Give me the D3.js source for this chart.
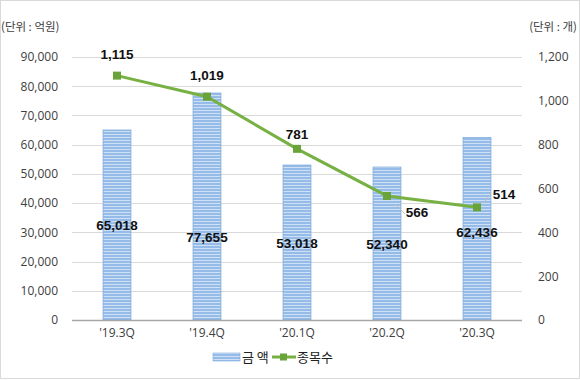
<!DOCTYPE html>
<html>
<head>
<meta charset="utf-8">
<script src="https://cdn.jsdelivr.net/npm/d3@7"></script>
<style>
  body { margin: 0; background: #fff; }
  svg { display: block; font-family: "Noto Sans CJK KR", "Noto Sans", sans-serif; }
</style>
</head>
<body>
<svg id="chart" width="580" height="380"></svg>
<script>
// data
const quarters = ["'19.3Q", "'19.4Q", "'20.1Q", "'20.2Q", "'20.3Q"];
const amounts = [65018, 77655, 53018, 52340, 62436];   // 금 액 (억원)
const counts = [1115, 1019, 781, 566, 514];            // 종목수 (개)
const leftTicks = [0, 10000, 20000, 30000, 40000, 50000, 60000, 70000, 80000, 90000];
const rightTicks = [0, 200, 400, 600, 800, 1000, 1200];

const svg = d3.select("#chart");
const W = 580, H = 380;
const margin = {top: 57, right: 58, bottom: 60, left: 72};

// outer frame
svg.append("rect")
    .attr("x", 0.5).attr("y", 0.5)
    .attr("width", W - 1).attr("height", H - 2)
    .attr("fill", "#fff").attr("stroke", "#d9d9d9");

// striped fill for bars
const defs = svg.append("defs");
const pat = defs.append("pattern")
    .attr("id", "stripes")
    .attr("patternUnits", "userSpaceOnUse")
    .attr("width", 8).attr("height", 3);
pat.append("rect").attr("width", 8).attr("height", 3).attr("fill", "#95bce8");
pat.append("rect").attr("y", 2).attr("width", 8).attr("height", 1).attr("fill", "#cfe0f5");

const x = d3.scaleBand()
    .domain(quarters)
    .range([margin.left, W - margin.right])
    .paddingInner(0.69)
    .paddingOuter(0.345);

const yL = d3.scaleLinear().domain([0, 90000]).range([H - margin.bottom, margin.top]);
const yR = d3.scaleLinear().domain([0, 1200]).range([H - margin.bottom, margin.top]);

// gridlines
svg.append("g")
    .selectAll("line")
    .data(leftTicks.slice(1))
    .join("line")
    .attr("x1", margin.left).attr("x2", W - margin.right)
    .attr("y1", d => Math.round(yL(d)) + 0.5).attr("y2", d => Math.round(yL(d)) + 0.5)
    .attr("stroke", "#d9d9d9");

// left axis
const axL = svg.append("g")
    .attr("transform", `translate(${margin.left},0)`)
    .call(d3.axisLeft(yL).tickValues(leftTicks).tickFormat(d3.format(",")).tickSize(0).tickPadding(14));
axL.select(".domain").remove();
axL.selectAll("text").attr("font-size", 12).attr("fill", "#404040")
    .attr("font-family", "'Open Sans', sans-serif");

// right axis
const axR = svg.append("g")
    .attr("transform", `translate(${W - margin.right},0)`)
    .call(d3.axisRight(yR).tickValues(rightTicks).tickFormat(d3.format(",")).tickSize(0).tickPadding(16));
axR.select(".domain").remove();
axR.selectAll("text").attr("font-size", 12).attr("fill", "#404040")
    .attr("font-family", "'Open Sans', sans-serif");

// bars
svg.append("g")
    .selectAll("rect")
    .data(amounts)
    .join("rect")
    .attr("x", (d, i) => x(quarters[i]))
    .attr("y", d => yL(d))
    .attr("width", x.bandwidth())
    .attr("height", d => yL(0) - yL(d))
    .attr("fill", "url(#stripes)")
    .attr("stroke", "#7eaadc")
    .attr("stroke-width", 0.8);

// x axis baseline
svg.append("line")
    .attr("x1", margin.left).attr("x2", W - margin.right)
    .attr("y1", yL(0) + 0.5).attr("y2", yL(0) + 0.5)
    .attr("stroke", "#a6a6a6").attr("stroke-width", 1.5);

// x labels
svg.append("g")
    .selectAll("text")
    .data(quarters)
    .join("text")
    .attr("x", d => x(d) + x.bandwidth() / 2)
    .attr("y", yL(0) + 17)
    .attr("text-anchor", "middle")
    .attr("font-size", 12)
    .attr("fill", "#404040")
    .attr("font-family", "'Open Sans', sans-serif")
    .text(d => d);

// bar value labels (centered in bar, second one nudged down as in the original)
const barLabelNudge = [0, 30, 0, 0, 3];
svg.append("g")
    .selectAll("text")
    .data(amounts)
    .join("text")
    .attr("x", (d, i) => x(quarters[i]) + x.bandwidth() / 2)
    .attr("y", (d, i) => (yL(d) + yL(0)) / 2 + 5 + barLabelNudge[i])
    .attr("text-anchor", "middle")
    .attr("font-size", 13.5)
    .attr("font-weight", "bold")
    .attr("fill", "#111")
    .attr("font-family", "'Liberation Sans', sans-serif")
    .text(d => d3.format(",")(d));

// line
const cx = (d, i) => x(quarters[i]) + x.bandwidth() / 2;
const line = d3.line()
    .x((d, i) => cx(d, i))
    .y(d => yR(d));

svg.append("path")
    .datum(counts)
    .attr("d", line)
    .attr("fill", "none")
    .attr("stroke", "#77b143")
    .attr("stroke-width", 3);

svg.append("g")
    .selectAll("rect")
    .data(counts)
    .join("rect")
    .attr("x", (d, i) => cx(d, i) - 4)
    .attr("y", d => yR(d) - 4)
    .attr("width", 8).attr("height", 8)
    .attr("fill", "#6aa33a");

// leader lines for the last two labels
const leaders = [[3, 8, 8, 18, 18], [4, 6, -4, 14, -14]];
svg.append("g")
    .selectAll("path")
    .data(leaders)
    .join("path")
    .attr("d", l => {
        const i = l[0];
        const px = cx(counts[i], i), py = yR(counts[i]);
        return `M${px + l[1]},${py + l[2]}L${px + l[3]},${py + l[4]}`;
    })
    .attr("stroke", "#bfbfbf")
    .attr("fill", "none");

// line value labels
const lineLabelDx = [0, 0, 0, 30, 27];
const lineLabelDy = [-17, -17, -10, 21, -8];
svg.append("g")
    .selectAll("text")
    .data(counts)
    .join("text")
    .attr("x", (d, i) => cx(d, i) + lineLabelDx[i])
    .attr("y", (d, i) => yR(d) + lineLabelDy[i])
    .attr("text-anchor", "middle")
    .attr("font-size", 13.5)
    .attr("font-weight", "bold")
    .attr("fill", "#111")
    .attr("font-family", "'Liberation Sans', sans-serif")
    .text(d => d3.format(",")(d));

// unit labels
svg.append("text")
    .attr("x", 1).attr("y", 31)
    .attr("font-size", 11.5).attr("fill", "#404040")
    .text("(단위 : 억원)");
svg.append("text")
    .attr("x", 577).attr("y", 31)
    .attr("text-anchor", "end")
    .attr("font-size", 11.5).attr("fill", "#404040")
    .text("(단위 : 개)");

// legend
const lg = svg.append("g").attr("transform", "translate(213,357)");
lg.append("rect")
    .attr("x", 0).attr("y", -4).attr("width", 27).attr("height", 8)
    .attr("fill", "url(#stripes)").attr("stroke", "#7eaadc").attr("stroke-width", 0.6);
lg.append("text")
    .attr("x", 29).attr("y", 5)
    .attr("font-size", 13).attr("fill", "#222")
    .text("금 액");
lg.append("line")
    .attr("x1", 59).attr("x2", 83).attr("y1", 0).attr("y2", 0)
    .attr("stroke", "#77b143").attr("stroke-width", 3);
lg.append("rect")
    .attr("x", 67).attr("y", -3.5).attr("width", 7).attr("height", 7)
    .attr("fill", "#6aa33a");
lg.append("text")
    .attr("x", 84).attr("y", 5)
    .attr("font-size", 13).attr("fill", "#222")
    .text("종목수");
</script>
</body>
</html>
